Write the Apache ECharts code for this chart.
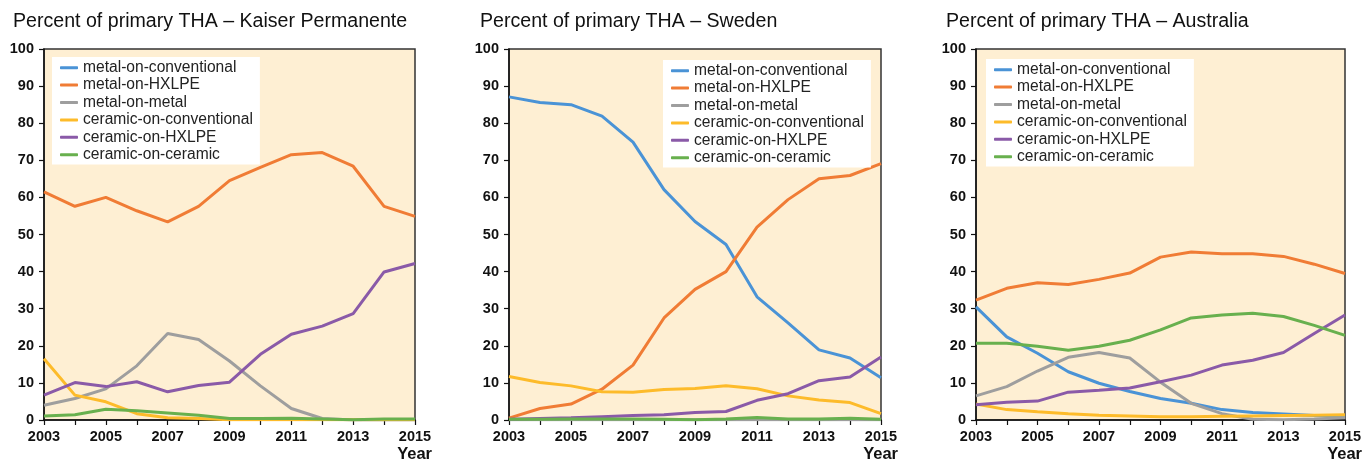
<!DOCTYPE html>
<html>
<head>
<meta charset="utf-8">
<script src="https://cdn.jsdelivr.net/npm/echarts@6/dist/echarts.min.js"></script>
<style>
  html, body { margin: 0; padding: 0; background: #ffffff; }
  #chart { width: 1365px; height: 463px; }
</style>
</head>
<body>
<div id="chart"></div>
<script>
const years = ['2003','2004','2005','2006','2007','2008','2009','2010','2011','2012','2013','2014','2015'];
const seriesNames = ['metal-on-conventional','metal-on-HXLPE','metal-on-metal','ceramic-on-conventional','ceramic-on-HXLPE','ceramic-on-ceramic'];
const panelTitles = ['Percent of primary THA – Kaiser Permanente','Percent of primary THA – Sweden','Percent of primary THA – Australia'];
const xAxisName = 'Year';

// Kaiser Permanente (metal-on-conventional not drawn in the source panel)
const kaiserMetalConv   = [null,null,null,null,null,null,null,null,null,null,null,null,null];
const kaiserMetalHXLPE  = [61.5,57.6,60.0,56.4,53.4,57.6,64.5,68.1,71.5,72.1,68.4,57.6,54.9];
const kaiserMetalMetal  = [4.0,5.8,8.4,14.6,23.3,21.7,15.9,9.2,3.1,0.4,0,0,0];
const kaiserCerConv     = [16.5,6.7,4.9,1.7,0.6,0.4,0.1,0.1,0.1,0.1,0.1,0.1,0.1];
const kaiserCerHXLPE    = [6.7,10.1,9.0,10.3,7.6,9.3,10.2,17.7,23.1,25.3,28.7,39.9,42.2];
const kaiserCerCer      = [1.1,1.4,2.9,2.5,1.9,1.3,0.4,0.4,0.5,0.3,0.1,0.3,0.3];

// Sweden
const swedenMetalConv   = [87.1,85.6,85.0,81.9,74.9,62.1,53.5,47.3,33.2,26.2,18.9,16.7,11.4];
const swedenMetalHXLPE  = [0.5,3.1,4.3,8.3,14.8,27.5,35.2,40.0,52.0,59.4,65.0,65.9,69.1];
const swedenMetalMetal  = [0.1,0.1,0.1,0.1,0.1,0.1,0.1,0.1,0.1,0.1,0.1,0.1,0.1];
const swedenCerConv     = [11.7,10.1,9.2,7.6,7.5,8.2,8.5,9.2,8.4,6.5,5.4,4.7,1.7];
const swedenCerHXLPE    = [0.2,0.4,0.6,0.9,1.2,1.4,2.0,2.3,5.3,7.1,10.6,11.6,17.0];
const swedenCerCer      = [0.2,0.2,0.3,0.3,0.3,0.2,0.1,0.3,0.7,0.3,0.3,0.5,0.2];

// Australia
const ausMetalConv      = [30.5,22.4,18.0,13.0,9.9,7.7,5.8,4.5,2.8,2.0,1.6,1.2,1.1];
const ausMetalHXLPE     = [32.3,35.5,37.0,36.5,37.9,39.6,43.9,45.3,44.8,44.8,44.1,42.0,39.5];
const ausMetalMetal     = [6.5,9.0,13.2,16.9,18.2,16.7,10.2,4.5,1.7,0.2,0.1,0.3,0.6];
const ausCerConv        = [4.3,2.8,2.2,1.7,1.3,1.1,0.9,0.9,1.0,1.1,1.2,1.3,1.4];
const ausCerHXLPE       = [4.1,4.8,5.1,7.5,8.0,8.6,10.3,12.1,14.8,16.1,18.2,23.3,28.3];
const ausCerCer         = [20.7,20.7,19.9,18.8,19.9,21.5,24.3,27.5,28.3,28.8,27.9,25.5,22.8];

const panelData = [
  [kaiserMetalConv, kaiserMetalHXLPE, kaiserMetalMetal, kaiserCerConv, kaiserCerHXLPE, kaiserCerCer],
  [swedenMetalConv, swedenMetalHXLPE, swedenMetalMetal, swedenCerConv, swedenCerHXLPE, swedenCerCer],
  [ausMetalConv, ausMetalHXLPE, ausMetalMetal, ausCerConv, ausCerHXLPE, ausCerCer]
];

const colors = ['#4a93d6','#f07c35','#9e9e9e','#fdbb2a','#8a5aa8','#68b04e'];
const FONT = '"Liberation Sans", Arial, Helvetica, sans-serif';

const grids = [
  { left: 44, width: 371, top: 49, height: 372 },
  { left: 509, width: 372, top: 49, height: 372 },
  { left: 976, width: 371, top: 49, height: 372 }
];
const titleLefts = [13, 480, 946];
const legendPos = [ {left: 52, top: 57}, {left: 663, top: 60}, {left: 986, top: 59} ];

const option = {
  animation: false,
  backgroundColor: '#ffffff',
  color: colors,
  textStyle: { fontFamily: FONT },
  title: panelTitles.map((t, i) => ({
    text: t, left: titleLefts[i], top: 12, padding: 0,
    textStyle: { fontFamily: FONT, fontSize: 19.6, fontWeight: 'normal', color: '#111' }
  })),
  legend: panelData.map((d, i) => ({
    data: seriesNames.map(n => ({ name: n })),
    orient: 'vertical',
    left: legendPos[i].left, top: legendPos[i].top,
    backgroundColor: '#ffffff',
    padding: [2, 7, 1, 8],
    itemGap: 0,
    itemWidth: 18, itemHeight: 3,
    icon: 'roundRect',
    selectedMode: false,
    textStyle: { fontFamily: FONT, fontSize: 15.6, color: '#222', lineHeight: 17.4 }
  })),
  grid: grids.map(g => Object.assign({
    show: true, backgroundColor: '#feefd3', borderColor: '#333', borderWidth: 1.5, containLabel: false
  }, g)),
  xAxis: grids.map((g, i) => ({
    type: 'category', gridIndex: i, data: years, boundaryGap: false,
    axisLine: { lineStyle: { color: '#111', width: 1.5 } },
    axisTick: { show: true, interval: 0, length: 5, lineStyle: { color: '#111', width: 1.2 } },
    axisLabel: { interval: 1, margin: 9, fontFamily: FONT, fontSize: 14.5, fontWeight: 'bold', color: '#111' },
    splitLine: { show: false },
    name: xAxisName, nameLocation: 'end', nameGap: 17,
    nameTextStyle: { fontFamily: FONT, fontSize: 16.5, fontWeight: 'bold', color: '#111', align: 'right', verticalAlign: 'top', padding: [26, 0, 0, 0] }
  })),
  yAxis: grids.map((g, i) => ({
    type: 'value', gridIndex: i, min: 0, max: 100, interval: 10,
    axisLine: { show: true, lineStyle: { color: '#111', width: 1.5 } },
    axisTick: { show: true, length: 5, lineStyle: { color: '#111', width: 1.2 } },
    axisLabel: { margin: 10, fontFamily: FONT, fontSize: 14.5, fontWeight: 'bold', color: '#111' },
    splitLine: { show: false }
  })),
  series: []
};

panelData.forEach((arrs, p) => {
  arrs.forEach((vals, s) => {
    option.series.push({
      type: 'line', name: seriesNames[s], xAxisIndex: p, yAxisIndex: p,
      data: vals, symbol: 'none', smooth: false, connectNulls: false,
      lineStyle: { width: 3, color: colors[s] },
      itemStyle: { color: colors[s] },
      z: 2
    });
  });
});

const chart = echarts.init(document.getElementById('chart'), null, { renderer: 'canvas' });
chart.setOption(option);
</script>
</body>
</html>
